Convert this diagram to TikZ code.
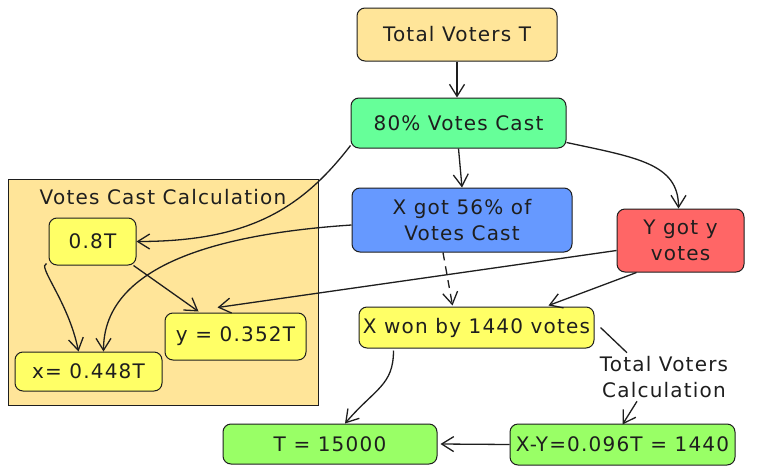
\documentclass[tikz,border=0pt]{standalone}
\usepackage{fontspec}
\setmainfont{DejaVu Sans}[LetterSpace=6]
\usetikzlibrary{arrows.meta,calc}
\definecolor{ink}{HTML}{1E1E1E}
\definecolor{cOrange}{HTML}{FFE599}
\definecolor{cGreen}{HTML}{66FF99}
\definecolor{cBlue}{HTML}{6699FF}
\definecolor{cRed}{HTML}{FF6666}
\definecolor{cYellow}{HTML}{FFFF66}
\definecolor{cLime}{HTML}{99FF66}
\begin{document}
\begin{tikzpicture}[x=1pt,y=-1pt,
  font=\fontsize{20}{26}\selectfont,
  box/.style={draw=ink, line width=1pt, rounded corners=8pt, align=center, inner sep=0pt, text=ink},
  arr/.style={draw=ink, line width=1.3pt, -{Straight Barb[length=12pt,width=15pt]}},
  plain/.style={draw=ink, line width=1.3pt}]
\fill[white] (0,0) rectangle (768,474);
\useasboundingbox (0,0) rectangle (768,474);
% cluster
\node[draw=ink, line width=1pt, fill=cOrange, minimum width=310pt, minimum height=226pt, inner sep=0pt] (cl) at (163,292) {};
\node[text=ink] (cll) at (163,197) {Votes Cast Calculation};
% nodes
\node[box, fill=cOrange, minimum width=200pt, minimum height=53pt] (tot) at (457,34.5) {Total Voters T};
\node[box, fill=cGreen, minimum width=215pt, minimum height=50pt] (vc) at (458.5,123) {80\% Votes Cast};
\node[box, fill=cBlue, minimum width=220pt, minimum height=64pt] (xg) at (462,220) {X got 56\% of\\Votes Cast};
\node[box, fill=cRed, minimum width=127pt, minimum height=63pt] (yg) at (680.5,240.5) {Y got y\\votes};
\node[box, fill=cYellow, minimum width=235pt, minimum height=41pt] (xw) at (476.5,327.5) {X won by 1440 votes};
\node[box, fill=cYellow, minimum width=87pt, minimum height=47pt] (t8) at (92.5,241.5) {0.8T};
\node[box, fill=cYellow, minimum width=141pt, minimum height=47pt] (yv) at (235.5,336.5) {y = 0.352T};
\node[box, fill=cYellow, minimum width=147pt, minimum height=39pt] (xv) at (88.5,371.5) {x= 0.448T};
\node[box, fill=cLime, minimum width=214pt, minimum height=40pt] (tf) at (330,444) {T = 15000};
\node[box, fill=cLime, minimum width=225pt, minimum height=41pt] (xy) at (622.5,444.5) {X-Y=0.096T = 1440};
\node[align=center, text=ink] (tvc) at (664,377) {Total Voters\\Calculation};
% edges
\draw[arr] (tot.south) -- (tot.south |- vc.north);
\draw[arr] (vc.south) -- (xg.north);
\draw[arr] ($(vc.south east)+(0,-6)$) .. controls +(70,15) and +(0,-45) .. ($(yg.north)+(-2,0)$);
\draw[arr] ($(vc.south west)+(0,-3)$) .. controls +(-50,65) and +(110,0) .. (t8.east);
\draw[arr] ($(xg.west)+(0,5)$) .. controls +(-150,10) and +(0,-80) .. ($(xv.north)+(15,0)$);
\draw[arr] ($(t8.south west)+(-2,-2)$) .. controls +(-10,2) and +(-10,-50) .. ($(xv.north)+(-10,0)$);
\draw[arr] ($(t8.south east)+(-3,0)$) -- ($(yv.north)+(-37,-1)$);
\draw[arr] ($(yg.west)+(0,10)$) -- ($(yv.north)+(-18,-5)$);
\draw[arr] ($(yg.south)+(-44,0)$) -- ($(xw.north)+(72,-1)$);
\draw[arr,dash pattern=on 8pt off 6pt] ($(xg.south)+(-19,0)$) -- ($(xw.north)+(-24,-1)$);
\draw[arr] ($(xw.south)+(-83,2)$) .. controls +(0,35) and +(30,-35) .. ($(tf.north)+(15,0)$);
\draw[plain] ($(xw.east)+(6,0)$) -- ($(tvc.north)+(-37,0)$);
\draw[arr] ($(tvc.south)+(-27,0)$) -- ($(xy.north)+(0,1)$);
\draw[arr] (xy.west) -- ($(tf.east)+(3,0)$);
\end{tikzpicture}
\end{document}
